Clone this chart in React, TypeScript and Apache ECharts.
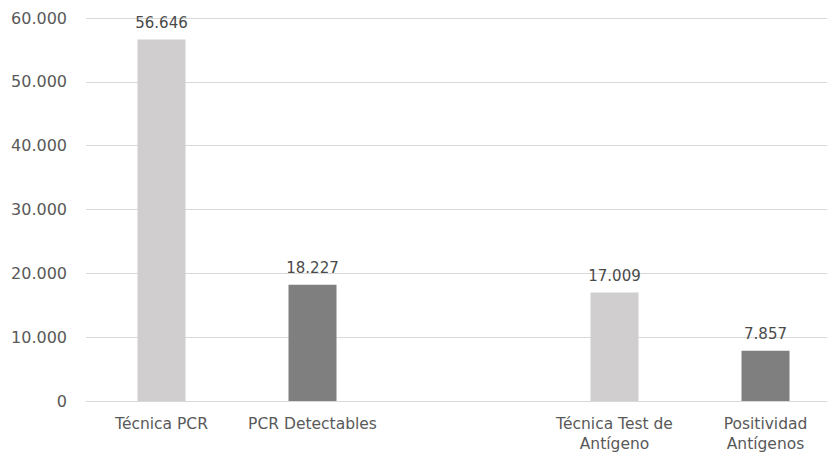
import React, { useEffect, useRef } from "react";
import * as echarts from "echarts";

const categories = ["Técnica PCR", "PCR Detectables", "", "Técnica Test de\nAntígeno", "Positividad\nAntígenos"];
const values = [56646, 18227, null, 17009, 7857];
const barColors = ["#D0CECE", "#7F7F7F", "#D0CECE", "#D0CECE", "#7F7F7F"];
const yTicks = { min: 0, max: 60000, interval: 10000 };

const fmt = (v: number) => {
  const s = Math.round(v).toString();
  return s.replace(/\B(?=(\d{3})+(?!\d))/g, ".");
};

export default function App() {
  const ref = useRef<HTMLDivElement>(null);
  useEffect(() => {
    document.body.style.margin = "0";
    document.body.style.overflow = "hidden";
    const chart = echarts.init(ref.current!, undefined, { renderer: "svg" });
    const font = "'DejaVu Sans', sans-serif";
    chart.setOption({
      animation: false,
      backgroundColor: "#ffffff",
      grid: { left: 86, top: 18, width: 755, height: 383, containLabel: false },
      xAxis: {
        type: "category",
        data: categories,
        axisLine: { show: true, lineStyle: { color: "#D9D9D9", width: 1 } },
        axisTick: { show: false },
        axisLabel: {
          color: "#595959",
          fontSize: 15.5,
          fontFamily: font,
          lineHeight: 20,
          margin: 13,
          interval: 0,
        },
      },
      yAxis: {
        type: "value",
        min: yTicks.min,
        max: yTicks.max,
        interval: yTicks.interval,
        axisLine: { show: false },
        axisTick: { show: false },
        splitLine: { lineStyle: { color: "#D9D9D9", width: 1 } },
        axisLabel: {
          color: "#595959",
          fontSize: 16,
          fontFamily: font,
          margin: 19,
          formatter: (v: number) => fmt(v),
        },
      },
      series: [
        {
          type: "bar",
          barWidth: 48,
          data: values.map((v, i) => ({ value: v, itemStyle: { color: barColors[i] } })),
          label: {
            show: true,
            position: "top",
            distance: 9,
            color: "#4a4a4a",
            fontSize: 15,
            fontFamily: font,
            formatter: (p: any) => (p.value == null ? "" : fmt(p.value)),
          },
        },
      ],
    });
    return () => chart.dispose();
  }, []);
  return (
    <div style={{ width: 827, height: 456, overflow: "hidden", position: "relative" }}>
      <div ref={ref} style={{ width: 841, height: 456 }} />
    </div>
  );
}
